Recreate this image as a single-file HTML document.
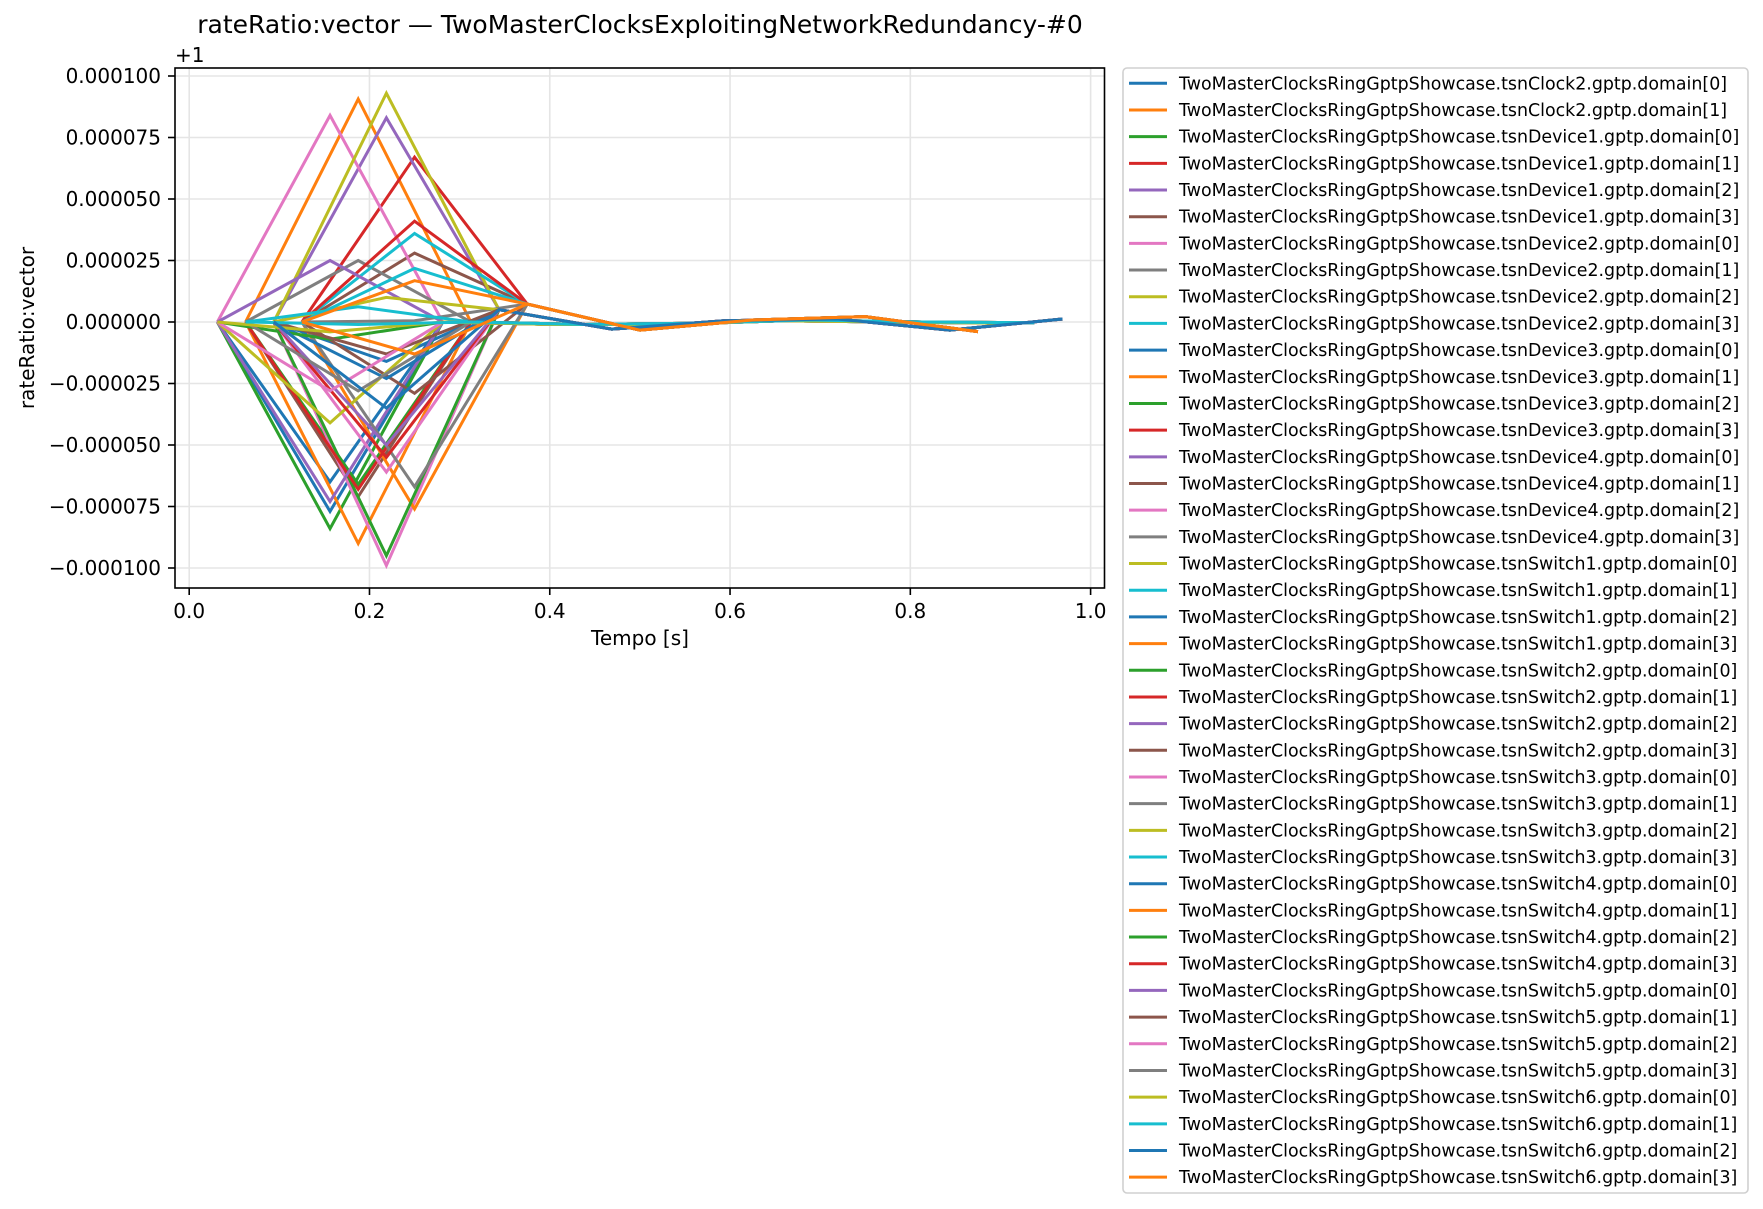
<!DOCTYPE html>
<html><head><meta charset="utf-8">
<style>
html,body{margin:0;padding:0;background:#fff;}
svg{display:block;font-family:"DejaVu Sans","Liberation Sans",sans-serif;}
</style></head>
<body>
<svg id="chart" width="1763" height="1209" viewBox="0 0 1763 1209" xmlns="http://www.w3.org/2000/svg">
<rect x="0" y="0" width="1763" height="1209" fill="#fff"/>
<text x="640" y="33" font-size="25" text-anchor="middle" fill="#000">rateRatio:vector — TwoMasterClocksExploitingNetworkRedundancy-#0</text>
<text x="175" y="62" font-size="20" fill="#000">+1</text>
<g id="grid"></g>
<g id="series"></g>
<rect x="175" y="68" width="929.5" height="520" fill="none" stroke="#000" stroke-width="1.6"/>
<g id="xticks"></g>
<g id="yticks"></g>
<text x="640" y="645" font-size="20" text-anchor="middle" fill="#000">Tempo [s]</text>
<text x="0" y="0" font-size="20" text-anchor="middle" fill="#000" transform="translate(34,328) rotate(-90)">rateRatio:vector</text>
<rect x="1123" y="68" width="625" height="1125" rx="4" fill="#fff" stroke="#d0d0d0" stroke-width="1.6"/>
<g id="legend"></g>
</svg>
<script>
const xTicks = [0.0, 0.2, 0.4, 0.6, 0.8, 1.0];
const xTickLabels = ["0.0", "0.2", "0.4", "0.6", "0.8", "1.0"];
const yTicks = [100, 75, 50, 25, 0, -25, -50, -75, -100];
const yTickLabels = ["0.000100", "0.000075", "0.000050", "0.000025", "0.000000", "\u22120.000025", "\u22120.000050", "\u22120.000075", "\u22120.000100"];

// sample times per start group (s)
const timesGroupA = [0.03125, 0.15625, 0.28125, 0.40625, 0.53125, 0.65625, 0.78125, 0.90625];
const timesGroupB = [0.0625, 0.1875, 0.3125, 0.4375, 0.5625, 0.6875, 0.8125, 0.9375];
const timesGroupC = [0.09375, 0.21875, 0.34375, 0.46875, 0.59375, 0.71875, 0.84375, 0.96875];
const timesGroupD = [0.125, 0.25, 0.375, 0.5, 0.625, 0.75, 0.875];
// values after the first excursion (units of 1e-6)
const tailGroupA = [0, -1, -1, 0.5, 0, -0.5];
const tailGroupB = [0, -1, -0.5, 0.8, 0, -0.3];
const tailGroupC = [5, -2.9, 0.5, 1.2, -3.3, 1.2];
const tailGroupD = [7.3, -3.3, 0.8, 2.2, -3.9];

const seriesNames = [
"tsnClock2.gptp.domain[0]","tsnClock2.gptp.domain[1]",
"tsnDevice1.gptp.domain[0]","tsnDevice1.gptp.domain[1]","tsnDevice1.gptp.domain[2]","tsnDevice1.gptp.domain[3]",
"tsnDevice2.gptp.domain[0]","tsnDevice2.gptp.domain[1]","tsnDevice2.gptp.domain[2]","tsnDevice2.gptp.domain[3]",
"tsnDevice3.gptp.domain[0]","tsnDevice3.gptp.domain[1]","tsnDevice3.gptp.domain[2]","tsnDevice3.gptp.domain[3]",
"tsnDevice4.gptp.domain[0]","tsnDevice4.gptp.domain[1]","tsnDevice4.gptp.domain[2]","tsnDevice4.gptp.domain[3]",
"tsnSwitch1.gptp.domain[0]","tsnSwitch1.gptp.domain[1]","tsnSwitch1.gptp.domain[2]","tsnSwitch1.gptp.domain[3]",
"tsnSwitch2.gptp.domain[0]","tsnSwitch2.gptp.domain[1]","tsnSwitch2.gptp.domain[2]","tsnSwitch2.gptp.domain[3]",
"tsnSwitch3.gptp.domain[0]","tsnSwitch3.gptp.domain[1]","tsnSwitch3.gptp.domain[2]","tsnSwitch3.gptp.domain[3]",
"tsnSwitch4.gptp.domain[0]","tsnSwitch4.gptp.domain[1]","tsnSwitch4.gptp.domain[2]","tsnSwitch4.gptp.domain[3]",
"tsnSwitch5.gptp.domain[0]","tsnSwitch5.gptp.domain[1]","tsnSwitch5.gptp.domain[2]","tsnSwitch5.gptp.domain[3]",
"tsnSwitch6.gptp.domain[0]","tsnSwitch6.gptp.domain[1]","tsnSwitch6.gptp.domain[2]","tsnSwitch6.gptp.domain[3]"];
// start group per series (A,B,C,D)
const seriesGroup = ["A","B","A","D","C","D","A","B","C","D",
                     "A","B","B","D","A","B","C","D","C","D",
                     "C","D","C","B","A","D","C","D","A","B",
                     "C","D","A","C","C","C","A","B","A","B",
                     "C","D"];
// first excursion value (1e-6)
const seriesPeak = [-77, 90.6, -84, 67, 83, 28, 84, 25, 93, 36,
                    -65, -90, -66, 41, 25, -71, -99, 0.5, 10, 21.8,
                    -16, -76, -95, -68, -73, -29, -61, -67, -41, 6.2,
                    -23, 16.8, -7, -55, -50, -13, -28, -28, -4, -1,
                    -35, -13];

const colors = ["#1f77b4","#ff7f0e","#2ca02c","#d62728","#9467bd","#8c564b","#e377c2","#7f7f7f","#bcbd22","#17becf"];
const NS = "http://www.w3.org/2000/svg";
const X0 = 189.2, XS = 901.4;
const Y0 = 322, YS = 2.46;
function xs(t){ return X0 + t*XS; }
function ys(u){ return Y0 - u*YS; }
function mk(tag, attrs, parent){
  const el = document.createElementNS(NS, tag);
  for (const k in attrs) el.setAttribute(k, attrs[k]);
  parent.appendChild(el);
  return el;
}
const grid = document.getElementById("grid");
const xt = document.getElementById("xticks");
const yt = document.getElementById("yticks");
xTicks.forEach((t, i) => {
  const g = mk("line", {x1: xs(t), x2: xs(t), y1: 68, y2: 588, stroke: "#e5e5e5", "stroke-width": 1.6}, grid);
  
  
  const tk = mk("line", {x1: xs(t), x2: xs(t), y1: 588, y2: 595, stroke: "#000", "stroke-width": 1.6}, xt);
  
  
  const lb = mk("text", {x: xs(t), y: 618, "font-size": 20, "text-anchor": "middle", fill: "#000"}, xt);
  lb.textContent = xTickLabels[i];
  
  
});
yTicks.forEach((u, i) => {
  const g = mk("line", {x1: 175, x2: 1104.5, y1: ys(u), y2: ys(u), stroke: "#e5e5e5", "stroke-width": 1.6}, grid);
  
  
  const tk = mk("line", {x1: 168, x2: 175, y1: ys(u), y2: ys(u), stroke: "#000", "stroke-width": 1.6}, yt);
  
  
  const lb = mk("text", {x: 161, y: ys(u) + 7, "font-size": 20, "text-anchor": "end", fill: "#000"}, yt);
  lb.textContent = yTickLabels[i];
  
  
});
const groupTimes = {A: timesGroupA, B: timesGroupB, C: timesGroupC, D: timesGroupD};
const groupTail = {A: tailGroupA, B: tailGroupB, C: tailGroupC, D: tailGroupD};
const sg = document.getElementById("series");
const lg = document.getElementById("legend");
seriesNames.forEach((name, i) => {
  const gk = seriesGroup[i] || "D";
  const ts = groupTimes[gk];
  const vals = [0, seriesPeak[i] || 0].concat(groupTail[gk]);
  const pts = ts.map((t, k) => xs(t).toFixed(2) + "," + ys(vals[k]).toFixed(2)).join(" ");
  const pl = mk("polyline", {points: pts, fill: "none", stroke: colors[i % 10], "stroke-width": 3, "stroke-linejoin": "miter"}, sg);
  
  
  const cy = 83.3 + i*26.68;
  const ll = mk("line", {x1: 1129, x2: 1167, y1: cy, y2: cy, stroke: colors[i % 10], "stroke-width": 3}, lg);
  
  
  const lt = mk("text", {x: 1179, y: cy + 6, "font-size": 17.4, fill: "#000"}, lg);
  lt.textContent = "TwoMasterClocksRingGptpShowcase." + name;
  
  
});
</script>
</body></html>
